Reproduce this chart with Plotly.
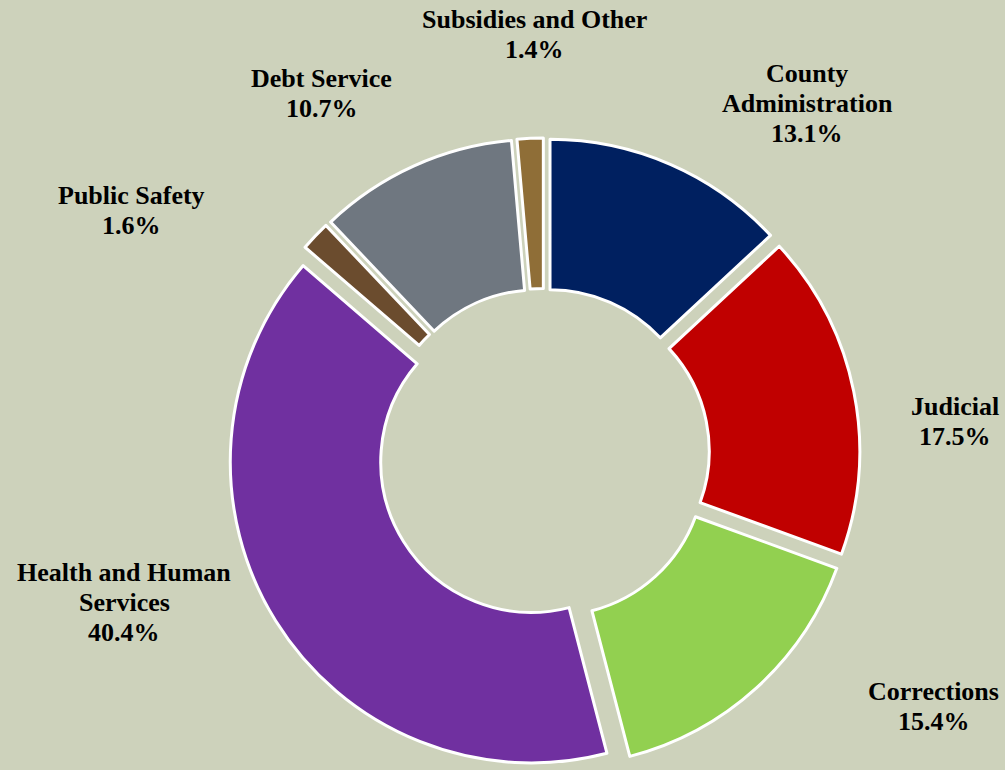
import plotly.graph_objects as go

categories = ["County Administration", "Judicial", "Corrections", "Health and Human Services",
              "Public Safety", "Debt Service", "Subsidies and Other"]
label_lines = [["County", "Administration"], ["Judicial"], ["Corrections"], ["Health and Human", "Services"],
               ["Public Safety"], ["Debt Service"], ["Subsidies and Other"]]
values = [13.1, 17.5, 15.4, 40.4, 1.6, 10.7, 1.4]
colors = ["#002060", "#C00000", "#92D050", "#7030A0", "#6B4C2E", "#6F7780", "#8F6E37"]

# label block centres (paper coords)
label_pos = [(0.803, 0.866), (0.950, 0.452), (0.929, 0.082), (0.1235, 0.217),
             (0.1305, 0.726), (0.320, 0.878), (0.5315, 0.955)]

BG = "#CDD2BB"
W, H = 1005, 770
cx, cy, pull = 544, 454, 0.05
tot = H - cy  # half-size of the pie box (fits to the bottom edge)
LINE = 30
FONT = dict(family="Liberation Serif, Times New Roman, serif", size=26, color="black")

fig = go.Figure(go.Pie(
    labels=categories, values=values, sort=False, direction="clockwise", rotation=0,
    hole=0.5, pull=[pull] * len(values),
    marker=dict(colors=colors, line=dict(color="white", width=3)),
    textinfo="none", hoverinfo="label+percent", showlegend=False,
    domain=dict(x=[(cx - tot) / W, (cx + tot) / W], y=[0, 1 - (cy - tot) / H]),
))

for lines, v, (x, y) in zip(label_lines, values, label_pos):
    all_lines = lines + [f"{v:.1f}%"]
    n = len(all_lines)
    for i, t in enumerate(all_lines):
        fig.add_annotation(x=x, y=y, xref="paper", yref="paper", showarrow=False,
                           text=f"<b>{t}</b>", xanchor="center", yanchor="middle",
                           yshift=-(i - (n - 1) / 2) * LINE, font=FONT)

fig.update_layout(width=W, height=H, margin=dict(l=0, r=0, t=0, b=0),
                  paper_bgcolor=BG, plot_bgcolor=BG)
fig.write_html("out.html")
